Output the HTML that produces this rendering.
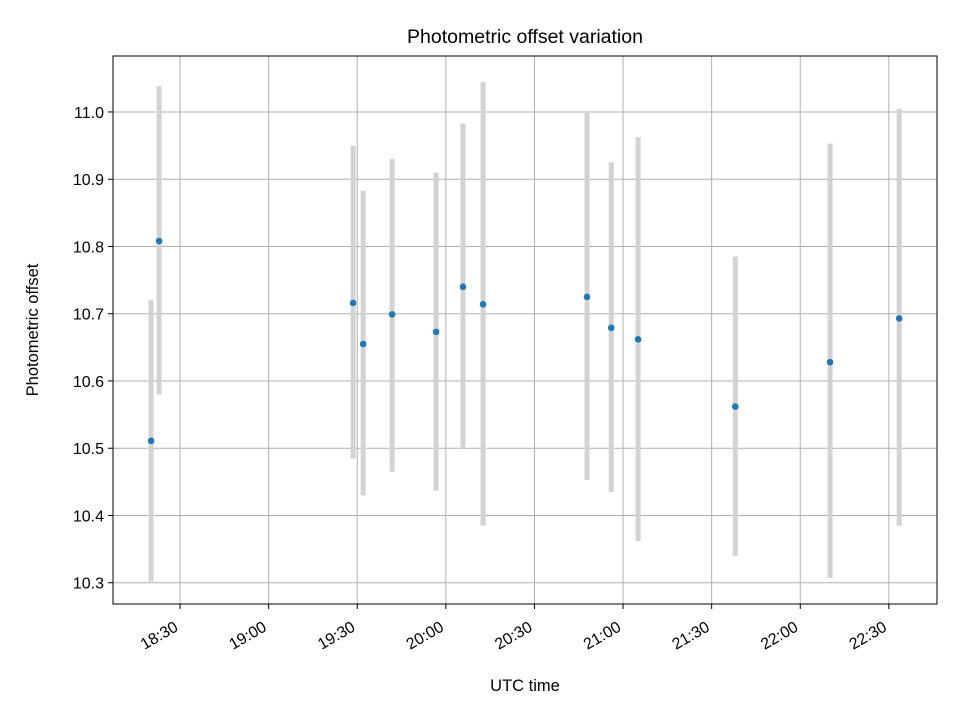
<!DOCTYPE html>
<html><head><meta charset="utf-8"><style>
body{margin:0;background:#fff}
svg{display:block;font-family:"Liberation Sans","DejaVu Sans",sans-serif}
</style></head><body>
<svg id="chart" width="960" height="720" xmlns="http://www.w3.org/2000/svg"></svg>
<script>
// minutes since 18:00 UTC
const times = [20.2, 22.9, 88.6, 92.0, 101.8, 116.7, 125.8, 132.6, 167.8, 176.0, 185.1, 218.0, 250.1, 273.5];
const offsets = [10.511, 10.808, 10.716, 10.655, 10.699, 10.673, 10.740, 10.714, 10.725, 10.679, 10.662, 10.562, 10.628, 10.693];
const errHigh = [10.720, 11.038, 10.950, 10.883, 10.930, 10.910, 10.983, 11.045, 11.000, 10.925, 10.963, 10.785, 10.953, 11.005];
const errLow = [10.302, 10.580, 10.485, 10.430, 10.465, 10.437, 10.500, 10.385, 10.453, 10.435, 10.362, 10.340, 10.307, 10.385];
const xTickMins = [30, 60, 90, 120, 150, 180, 210, 240, 270];
const xTickLabels = ["18:30","19:00","19:30","20:00","20:30","21:00","21:30","22:00","22:30"];
const yTicks = [10.3, 10.4, 10.5, 10.6, 10.7, 10.8, 10.9, 11.0];

const L=113,R=937,T=56,B=604;
const xMin=7.3,xMax=286.3;
const yMin=10.2684,yMax=11.0832;
const X=m=>L+(m-xMin)/(xMax-xMin)*(R-L);
const Y=v=>B-(v-yMin)/(yMax-yMin)*(B-T);
const svg=document.getElementById('chart');
const NS='http://www.w3.org/2000/svg';
function mk(tag,attrs,parent){const e=document.createElementNS(NS,tag);for(const k in attrs)e.setAttribute(k,attrs[k]);(parent||svg).appendChild(e);return e;}

const grid=mk('g',{});


xTickMins.forEach((m,i)=>{
  const x=X(m);
  const g=mk('line',{x1:x,x2:x,y1:T,y2:B,stroke:'#b0b0b0','stroke-width':1},grid);
  
  
  mk('line',{x1:x,x2:x,y1:B,y2:B+5,stroke:'#000','stroke-width':1});
  const t=mk('text',{x:0,y:0,'font-size':16,'text-anchor':'end',transform:`translate(${x-1},${B+26}) rotate(-30)`});
  t.textContent=xTickLabels[i];
  
  
});
yTicks.forEach(v=>{
  const y=Y(v);
  const g=mk('line',{x1:L,x2:R,y1:y,y2:y,stroke:'#b0b0b0','stroke-width':1},grid);
  
  
  mk('line',{x1:L-5,x2:L,y1:y,y2:y,stroke:'#000','stroke-width':1});
  const t=mk('text',{x:L-9,y:y+6,'font-size':16,'text-anchor':'end'});
  t.textContent=v.toFixed(1);
  
  
});
times.forEach((m,i)=>{
  const x=X(m);
  const e=mk('line',{x1:x,x2:x,y1:Y(errHigh[i]),y2:Y(errLow[i]),stroke:'#d3d3d3','stroke-width':5});
  
  
});
times.forEach((m,i)=>{
  const p=mk('circle',{cx:X(m),cy:Y(offsets[i]),r:3.3,fill:'#1f77b4'});
  
  
});
const fr=mk('rect',{x:L,y:T,width:R-L,height:B-T,fill:'none',stroke:'#000','stroke-width':1});


const ti=mk('text',{x:(L+R)/2,y:43,'font-size':19.5,'text-anchor':'middle'});
ti.textContent='Photometric offset variation';


const xt=mk('text',{x:(L+R)/2,y:691,'font-size':16.5,'text-anchor':'middle'});
xt.textContent='UTC time';


const yt=mk('text',{x:0,y:0,'font-size':16.5,'text-anchor':'middle',transform:`translate(38,${(T+B)/2}) rotate(-90)`});
yt.textContent='Photometric offset';


</script>
</body></html>
